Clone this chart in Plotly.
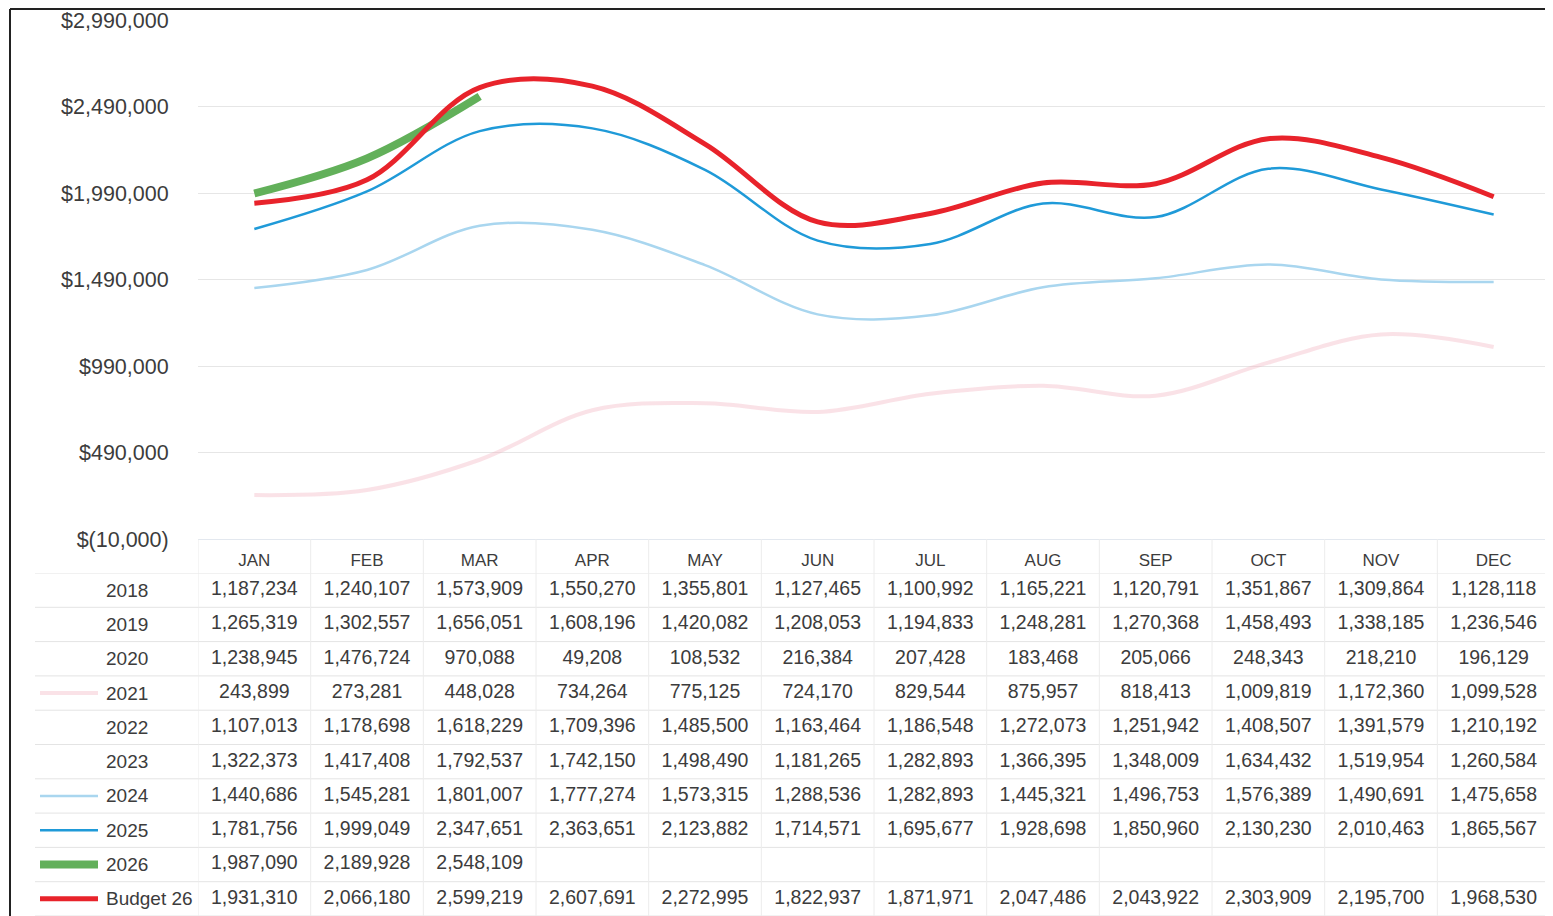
import plotly.graph_objects as go

W, H = 1553, 916
OFF = 8  # page body margin in the browser

months = ["JAN", "FEB", "MAR", "APR", "MAY", "JUN", "JUL", "AUG", "SEP", "OCT", "NOV", "DEC"]
series_names = ["2018", "2019", "2020", "2021", "2022", "2023", "2024", "2025", "2026", "Budget 26"]
s2018 = [1187234, 1240107, 1573909, 1550270, 1355801, 1127465, 1100992, 1165221, 1120791, 1351867, 1309864, 1128118]
s2019 = [1265319, 1302557, 1656051, 1608196, 1420082, 1208053, 1194833, 1248281, 1270368, 1458493, 1338185, 1236546]
s2020 = [1238945, 1476724, 970088, 49208, 108532, 216384, 207428, 183468, 205066, 248343, 218210, 196129]
s2021 = [243899, 273281, 448028, 734264, 775125, 724170, 829544, 875957, 818413, 1009819, 1172360, 1099528]
s2022 = [1107013, 1178698, 1618229, 1709396, 1485500, 1163464, 1186548, 1272073, 1251942, 1408507, 1391579, 1210192]
s2023 = [1322373, 1417408, 1792537, 1742150, 1498490, 1181265, 1282893, 1366395, 1348009, 1634432, 1519954, 1260584]
s2024 = [1440686, 1545281, 1801007, 1777274, 1573315, 1288536, 1282893, 1445321, 1496753, 1576389, 1490691, 1475658]
s2025 = [1781756, 1999049, 2347651, 2363651, 2123882, 1714571, 1695677, 1928698, 1850960, 2130230, 2010463, 1865567]
s2026 = [1987090, 2189928, 2548109]
budget26 = [1931310, 2066180, 2599219, 2607691, 2272995, 1822937, 1871971, 2047486, 2043922, 2303909, 2195700, 1968530]
all_series = [s2018, s2019, s2020, s2021, s2022, s2023, s2024, s2025, s2026, budget26]
y_ticks = [-10000, 490000, 990000, 1490000, 1990000, 2490000, 2990000]

# line styles for the plotted series (others appear only in the table)
styles = {
    "2021": dict(color="rgba(242,178,192,0.38)", width=4),
    "2024": dict(color="#a9d6ef", width=2.5),
    "2025": dict(color="#1f9ad8", width=2.5),
    "2026": dict(color="#62b05a", width=8),
    "Budget 26": dict(color="#e8232b", width=5),
}

def px(x):
    return (x - OFF) / W

def py(y):
    return 1 - (y - OFF) / H

def money(v):
    return "$({:,})".format(-v) if v < 0 else "${:,}".format(v)

FONT = "Liberation Sans"
TXT = "#3c3c3c"
GRID = "#e6e6e6"

fig = go.Figure()
xi = list(range(len(months)))

for name, vals in zip(series_names, all_series):
    if name in styles:
        fig.add_trace(go.Scatter(
            x=xi[:len(vals)], y=vals, mode="lines", name=name,
            line=dict(shape="spline", smoothing=1.0, **styles[name]),
            xaxis="x", yaxis="y", showlegend=False, hoverinfo="skip"))

# table values
for r, (name, vals) in enumerate(zip(series_names, all_series)):
    fig.add_trace(go.Scatter(
        x=xi[:len(vals)], y=[r] * len(vals), mode="text",
        text=["{:,}".format(v) for v in vals],
        textfont=dict(family=FONT, size=19.5, color=TXT),
        textposition="middle center",
        xaxis="x2", yaxis="y2", showlegend=False, hoverinfo="skip", cliponaxis=False))

shapes = []
annotations = []
# chart border
shapes.append(dict(type="line", xref="paper", yref="paper", x0=px(10), x1=px(1550), y0=py(9), y1=py(9),
                   line=dict(color="#222", width=2)))
shapes.append(dict(type="line", xref="paper", yref="paper", x0=px(10), x1=px(10), y0=py(9), y1=py(924),
                   line=dict(color="#222", width=2)))
shapes.append(dict(type="line", xref="paper", yref="paper", x0=px(1548), x1=px(1548), y0=py(9), y1=py(556),
                   line=dict(color="#222", width=2)))

# table horizontal separators
for r in range(len(series_names) + 1):
    shapes.append(dict(type="line", xref="paper", yref="y2", x0=px(35), x1=px(1550), y0=r - 0.5, y1=r - 0.5,
                       line=dict(color="#e4e4e4", width=1)))
# table vertical separators
for c in range(len(months) + 1):
    shapes.append(dict(type="line", xref="x2", yref="paper", x0=c - 0.5, x1=c - 0.5, y0=0, y1=py(539),
                       line=dict(color="#ececec", width=1)))

# row labels and legend keys
for r, name in enumerate(series_names):
    annotations.append(dict(text=name, x=px(104), y=r, xref="paper", yref="y2", xanchor="left",
                            yanchor="middle", showarrow=False, font=dict(family=FONT, size=19, color=TXT)))
    if name in styles:
        st = styles[name]
        shapes.append(dict(type="line", xref="paper", yref="y2", x0=px(40), x1=px(98), y0=r, y1=r,
                           line=dict(color=st["color"], width=st["width"])))

fig.update_layout(
    width=W, height=H,
    margin=dict(l=0, r=0, t=0, b=0, autoexpand=False),
    paper_bgcolor="white", plot_bgcolor="white",
    showlegend=False,
    xaxis=dict(domain=[px(198), px(1550)], range=[-0.5, 11.5], tickvals=xi, ticktext=months,
               showgrid=False, zeroline=False, showline=True, linecolor="#e3e8ef", linewidth=1,
               ticks="outside", ticklen=6, tickcolor="rgba(0,0,0,0)", automargin=False,
               tickfont=dict(family=FONT, size=17, color=TXT), fixedrange=True),
    yaxis=dict(domain=[py(539), py(20)], range=[-10000, 2990000], tickvals=y_ticks,
               ticktext=[money(v) for v in y_ticks], showgrid=True, gridcolor=GRID, gridwidth=1,
               zeroline=False, ticks="outside", ticklen=24, tickcolor="rgba(0,0,0,0)", automargin=False,
               tickfont=dict(family=FONT, size=21.5, color=TXT)),
    xaxis2=dict(domain=[px(198), px(1550)], range=[-0.5, 11.5], anchor="y2", visible=False, automargin=False),
    yaxis2=dict(domain=[0, py(573)], range=[9.5 + (924 - 916) / 34.3, -0.5], anchor="x2", visible=False,
                automargin=False),
    shapes=shapes,
    annotations=annotations,
)

fig.write_html("out.html")
